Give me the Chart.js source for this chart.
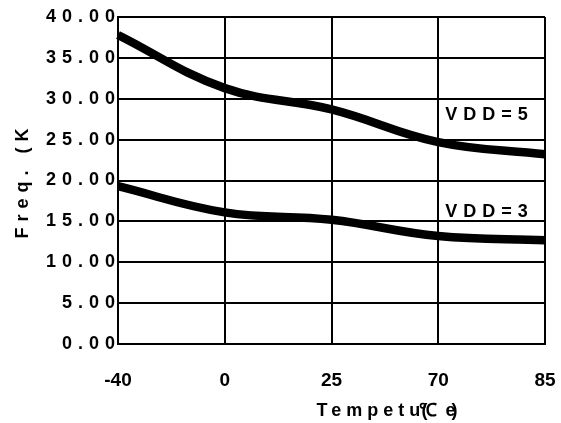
<!DOCTYPE html>
<html>
<head>
<meta charset="utf-8">
<script src="https://cdn.jsdelivr.net/npm/chart.js@4/dist/chart.umd.min.js"></script>
<style>
  html, body { margin: 0; padding: 0; background: #fff; }
  #wrap { width: 561px; height: 423px; }
</style>
</head>
<body>
<div id="wrap"><canvas id="c" width="561" height="423"></canvas></div>
<script>
// Temperature categories (°C) and oscillator frequency (kHz) per supply voltage
const temperatures = ['-40', '0', '25', '70', '85'];
const freqVdd5 = [37.8, 31.3, 28.7, 24.7, 23.2];
const freqVdd3 = [19.3, 16.1, 15.2, 13.2, 12.7];
const seriesNames = ['VDD=5', 'VDD=3'];
const yTickValues = [0, 5, 10, 15, 20, 25, 30, 35, 40];

const FONT = 'Liberation Sans, Arial, Helvetica, sans-serif';

// Wrap a scale's text routines so they draw with extra letter spacing
function spaceOut(scale, method, spacing) {
  const key = '_spaced_' + method;
  if (!scale || scale[key]) return;
  const orig = scale[method].bind(scale);
  scale[method] = function (area) {
    const ctx = scale.ctx;
    ctx.save();
    ctx.letterSpacing = spacing;
    orig(area);
    ctx.restore();
  };
  scale[key] = true;
}

const spacedText = {
  id: 'spacedText',
  beforeDraw(chart) {
    spaceOut(chart.scales.y, 'drawLabels', '6px');
    spaceOut(chart.scales.y, 'drawTitle', '6px');
  }
};

// Curve names beside each line, plus the temperature axis caption
const annotations = {
  id: 'annotations',
  afterDraw(chart) {
    const { ctx, scales: { x, y } } = chart;
    ctx.save();
    ctx.fillStyle = '#000';
    ctx.font = 'bold 18px ' + FONT;
    ctx.letterSpacing = '6px';
    ctx.textAlign = 'left';
    ctx.textBaseline = 'middle';
    const nameAt = [28.0, 16.1];
    seriesNames.forEach((name, i) => {
      ctx.fillText(name, x.getPixelForValue(3) + 7, y.getPixelForValue(nameAt[i]));
    });

    // axis caption with its unit squeezed into the last letters
    ctx.textBaseline = 'alphabetic';
    ctx.letterSpacing = '5px';
    const x0 = x.getPixelForValue(2) - 15;
    const base = chart.chartArea.bottom + 72;
    ctx.fillText('Tempetu', x0, base);
    ctx.letterSpacing = '0px';
    ctx.font = 'bold 18px ' + FONT;
    ctx.fillText('\u2103', x0 + 102, base);
    ctx.fillText('(', x0 + 105, base);
    ctx.fillText('e', x0 + 129, base);
    ctx.fillText(')', x0 + 135, base);
    ctx.restore();
  }
};

function noEdgePadding(scale) {
  scale.paddingLeft = 0;
  scale.paddingRight = 0;
  scale.paddingTop = 0;
  scale.paddingBottom = 0;
}

new Chart(document.getElementById('c'), {
  type: 'line',
  data: {
    labels: temperatures,
    datasets: [
      { label: seriesNames[0], data: freqVdd5 },
      { label: seriesNames[1], data: freqVdd3 }
    ]
  },
  options: {
    responsive: false,
    animation: false,
    devicePixelRatio: 1,
    layout: { padding: { left: 8, top: 17, right: 16, bottom: 0 } },
    elements: {
      line: { borderColor: '#000', borderWidth: 8.5, tension: 0.4, borderCapStyle: 'butt', fill: false },
      point: { radius: 0, hoverRadius: 0 }
    },
    plugins: {
      legend: { display: false },
      tooltip: { enabled: false }
    },
    scales: {
      x: {
        type: 'category',
        offset: false,
        grid: { color: '#000', lineWidth: 2, drawTicks: false, tickLength: 0 },
        border: { color: '#000', width: 2 },
        ticks: {
          color: '#000',
          font: { family: FONT, size: 19, weight: 'bold' },
          padding: 25,
          maxRotation: 0,
          autoSkip: false
        },
        afterFit(scale) { scale.height = 79; noEdgePadding(scale); }
      },
      y: {
        min: 0,
        max: 40,
        afterBuildTicks(scale) { scale.ticks = yTickValues.map(v => ({ value: v })); },
        grid: { color: '#000', lineWidth: 2, drawTicks: false, tickLength: 0 },
        border: { color: '#000', width: 2 },
        ticks: {
          color: '#000',
          font: { family: FONT, size: 18, weight: 'bold' },
          padding: -3,
          callback: (v) => Number(v).toFixed(2)
        },
        title: {
          display: true,
          text: 'Freq. (K',
          color: '#000',
          font: { family: FONT, size: 18, weight: 'bold' },
          padding: { top: 4, bottom: 4 }
        },
        afterFit(scale) { scale.width = 110; noEdgePadding(scale); }
      }
    }
  },
  plugins: [spacedText, annotations]
});
</script>
</body>
</html>
